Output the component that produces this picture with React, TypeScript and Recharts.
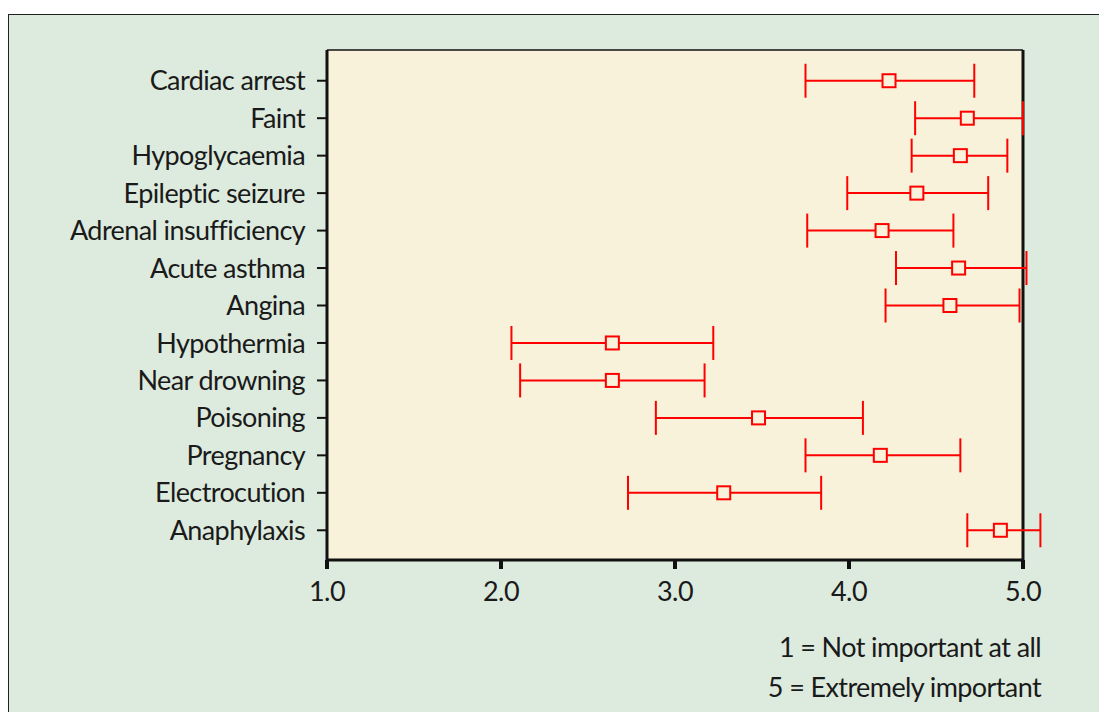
import {
  ScatterChart,
  Scatter,
  XAxis,
  YAxis,
  ErrorBar,
  CartesianGrid,
  ReferenceLine,
} from "recharts"

// ── data ─────────────────────────────────────────────────────────────────────
const conditions = [
  "Cardiac arrest",
  "Faint",
  "Hypoglycaemia",
  "Epileptic seizure",
  "Adrenal insufficiency",
  "Acute asthma",
  "Angina",
  "Hypothermia",
  "Near drowning",
  "Poisoning",
  "Pregnancy",
  "Electrocution",
  "Anaphylaxis",
]
const means = [4.23, 4.68, 4.64, 4.39, 4.19, 4.63, 4.58, 2.64, 2.64, 3.48, 4.18, 3.28, 4.87]
const lower = [3.75, 4.38, 4.36, 3.99, 3.76, 4.27, 4.21, 2.06, 2.11, 2.89, 3.75, 2.73, 4.68]
const upper = [4.72, 5.0, 4.91, 4.8, 4.6, 5.02, 4.98, 3.22, 3.17, 4.08, 4.64, 3.84, 5.1]
const xTicks = [1, 2, 3, 4, 5]

const rows = conditions.map((name, i) => ({
  name,
  mean: means[i],
  err: [means[i] - lower[i], upper[i] - means[i]],
}))

const RED = "#ff0000"
const PLOT_BG = "#f7f2d9"
const PANEL_BG = "#ddebde"
const INK = "#1a1a1a"
const FONT = "Lato, 'DejaVu Sans', sans-serif"
const FONT_SIZE = 27
const SPACING = -0.6

function Square(props: any) {
  const { cx, cy } = props
  if (cx == null || cy == null) return null
  return (
    <rect
      x={cx - 6.5}
      y={cy - 6.5}
      width={13}
      height={13}
      fill={PLOT_BG}
      stroke={RED}
      strokeWidth={2}
    />
  )
}

export default function App() {
  const tickStyle = {
    fill: INK,
    fontSize: FONT_SIZE,
    fontFamily: FONT,
    letterSpacing: SPACING,
  }
  return (
    <div
      style={{
        position: "absolute",
        left: 8,
        top: 14,
        width: 1091,
        height: 698,
        background: PANEL_BG,
        borderTop: "1px solid #222",
        borderLeft: "1px solid #222",
        fontFamily: FONT,
      }}
    >
      <style>{`g[clip-path]{clip-path:none !important}`}</style>
      <div style={{ position: "absolute", left: 0, top: 0 }}>
        <ScatterChart
          width={1090}
          height={697}
          margin={{ top: 34, right: 76, left: 0, bottom: 112 }}
        >
          <CartesianGrid
            horizontal={false}
            vertical={false}
            fill={PLOT_BG}
            fillOpacity={1}
          />
          <ReferenceLine x={5} stroke="#111" strokeWidth={3} />
          <XAxis
            xAxisId="top"
            orientation="top"
            type="number"
            domain={[1, 5]}
            allowDataOverflow
            height={1}
            tick={false}
            tickLine={false}
            axisLine={{ stroke: "#111", strokeWidth: 1.5 }}
          />
          <XAxis
            type="number"
            dataKey="mean"
            domain={[1, 5]}
            ticks={xTicks}
            allowDataOverflow
            tickFormatter={(v: number) => v.toFixed(1)}
            axisLine={{ stroke: "#111", strokeWidth: 3 }}
            tickLine={{ stroke: "#111", strokeWidth: 4 }}
            tickSize={9}
            tickMargin={13}
            height={40}
            tick={tickStyle}
          />
          <YAxis
            type="category"
            dataKey="name"
            reversed
            width={318}
            interval={0}
            padding={{ top: 12, bottom: 11 }}
            axisLine={{ stroke: "#111", strokeWidth: 3 }}
            tickLine={{ stroke: "#111", strokeWidth: 2 }}
            tickSize={10}
            tickMargin={12}
            tick={tickStyle}
          />
          <Scatter data={rows} shape={<Square />} isAnimationActive={false}>
            <ErrorBar
              dataKey="err"
              direction="x"
              width={17}
              stroke={RED}
              strokeWidth={2}
              isAnimationActive={false}
            />
          </Scatter>
        </ScatterChart>
      </div>
      <div
        style={{
          position: "absolute",
          right: 1091 - 1032,
          top: 612,
          textAlign: "right",
          fontSize: FONT_SIZE,
          letterSpacing: SPACING,
          color: INK,
          lineHeight: "40px",
        }}
      >
        <div>1 = Not important at all</div>
        <div>5 = Extremely important</div>
      </div>
    </div>
  )
}
